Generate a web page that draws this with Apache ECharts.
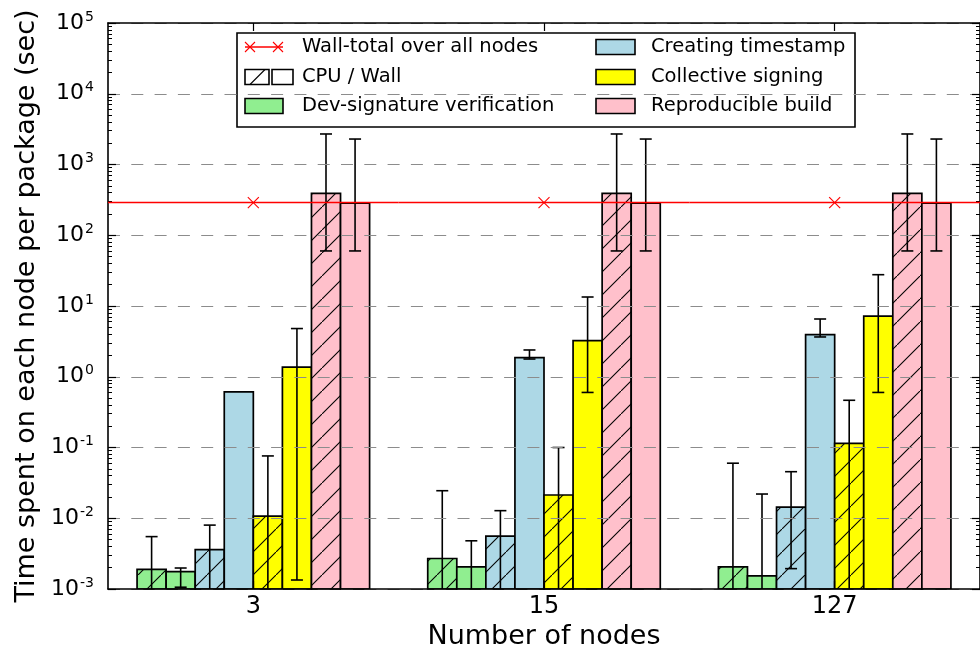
<!DOCTYPE html>
<html>
<head>
<meta charset="utf-8">
<script src="https://cdn.jsdelivr.net/npm/echarts@6/dist/echarts.min.js"></script>
<style>html,body{margin:0;padding:0;background:#fff}#c{width:980px;height:657px}</style>
</head>
<body>
<div id="c"></div>
<script>
// ---------- data ----------
const categories = ['3', '15', '127'];

const devCpu      = [0.0019, 0.0027, 0.00205];
const devCpuLow   = [1e-4, 1e-4, 1e-4];
const devCpuHigh  = [0.0055, 0.0245, 0.060];
const devWall     = [0.00176, 0.00205, 0.00153];
const devWallLow  = [0.00106, 1e-4, 1e-4];
const devWallHigh = [0.00198, 0.0048, 0.022];

const tsCpu      = [0.0036, 0.0056, 0.0144];
const tsCpuLow   = [1e-4, 1e-4, 0.00194];
const tsCpuHigh  = [0.008, 0.0128, 0.0455];
const tsWall     = [0.61, 1.86, 3.93];
const tsWallLow  = [null, 1.78, 3.65];
const tsWallHigh = [null, 2.39, 6.55];

const cosiCpu      = [0.0107, 0.0213, 0.1146];
const cosiCpuLow   = [1e-4, 1e-4, 1e-4];
const cosiCpuHigh  = [0.076, 0.10, 0.465];
const cosiWall     = [1.37, 3.23, 7.2];
const cosiWallLow  = [0.00134, 0.6, 0.6];
const cosiWallHigh = [4.8, 13.4, 27.7];

const buildCpu      = [390, 390, 390];
const buildCpuLow   = [60, 60, 60];
const buildCpuHigh  = [2700, 2700, 2700];
const buildWall     = [285, 285, 285];
const buildWallLow  = [60, 60, 60];
const buildWallHigh = [2290, 2290, 2290];

const wallTotal = [290, 290, 290];

const yMin = 1e-3, yMax = 1e5;

// ---------- styles ----------
const FONT = 'DejaVu Sans';
const GREEN = '#90EE90', BLUE = '#ADD8E6', YELLOW = '#FFFF00', PINK = '#FFC0CB';

function hatchCanvas(color) {
  const s = 23;
  const c = document.createElement('canvas');
  c.width = s; c.height = s;
  const g = c.getContext('2d');
  g.fillStyle = color; g.fillRect(0, 0, s, s);
  g.strokeStyle = '#000'; g.lineWidth = 1.1;
  g.beginPath(); g.moveTo(-3, s + 3); g.lineTo(s + 3, -3); g.stroke();
  return c;
}
function hatch(color) { return { image: hatchCanvas(color), repeat: 'repeat' }; }

const barDefs = [
  { name: 'Dev-signature verification (CPU)',  v: devCpu,   lo: devCpuLow,   hi: devCpuHigh,   color: GREEN,  hatch: true },
  { name: 'Dev-signature verification (Wall)', v: devWall,  lo: devWallLow,  hi: devWallHigh,  color: GREEN,  hatch: false },
  { name: 'Creating timestamp (CPU)',          v: tsCpu,    lo: tsCpuLow,    hi: tsCpuHigh,    color: BLUE,   hatch: true },
  { name: 'Creating timestamp (Wall)',         v: tsWall,   lo: tsWallLow,   hi: tsWallHigh,   color: BLUE,   hatch: false },
  { name: 'Collective signing (CPU)',          v: cosiCpu,  lo: cosiCpuLow,  hi: cosiCpuHigh,  color: YELLOW, hatch: true },
  { name: 'Collective signing (Wall)',         v: cosiWall, lo: cosiWallLow, hi: cosiWallHigh, color: YELLOW, hatch: false },
  { name: 'Reproducible build (CPU)',          v: buildCpu, lo: buildCpuLow, hi: buildCpuHigh, color: PINK,   hatch: true },
  { name: 'Reproducible build (Wall)',         v: buildWall,lo: buildWallLow,hi: buildWallHigh,color: PINK,   hatch: false }
];

const chart = echarts.init(document.getElementById('c'), null, { renderer: 'canvas' });

const barSeries = barDefs.map((d, k) => {
  const fill = d.hatch ? hatch(d.color) : d.color;
  return {
    type: 'custom',
    name: d.name,
    z: 1,
    encode: { x: 0, y: 1 },
    data: categories.map((c, i) => [i, d.v[i], d.lo[i] == null ? '-' : d.lo[i], d.hi[i] == null ? '-' : d.hi[i]]),
    renderItem: function (params, api) {
      const ci = api.value(0), v = api.value(1), lo = api.value(2), hi = api.value(3);
      const cs = params.coordSys;
      const band = cs.width / categories.length;
      const w = band * 0.1;
      const p = api.coord([ci, v]);
      const bottom = cs.y + cs.height;
      const x0 = p[0] + (k - 4) * w;
      const cx = x0 + w / 2;
      const children = [{
        type: 'rect',
        shape: { x: x0, y: p[1], width: w, height: bottom - p[1] },
        style: { fill: fill, stroke: '#000', lineWidth: 1.7 }
      }];
      if (isFinite(hi) && isFinite(lo)) {
        const yh = api.coord([ci, hi])[1];
        let yl = api.coord([ci, lo])[1];
        const clipped = !(yl <= bottom);
        if (clipped) yl = bottom;
        const es = { stroke: '#000', lineWidth: 1.6 };
        children.push({ type: 'line', shape: { x1: cx, y1: yh, x2: cx, y2: yl }, style: es });
        children.push({ type: 'line', shape: { x1: cx - 6, y1: yh, x2: cx + 6, y2: yh }, style: es });
        if (!clipped) children.push({ type: 'line', shape: { x1: cx - 6, y1: yl, x2: cx + 6, y2: yl }, style: es });
      }
      return { type: 'group', children: children };
    }
  };
});

const wallSeries = {
  type: 'custom',
  name: 'Wall-total over all nodes',
  z: 4,
  encode: { x: 0, y: 1 },
  data: categories.map((c, i) => [i, wallTotal[i]]),
  renderItem: function (params, api) {
    const p = api.coord([api.value(0), api.value(1)]);
    const band = params.coordSys.width / categories.length;
    const s = 5.5;
    const st = { stroke: '#ff0000', lineWidth: 1.6 };
    const sx = { stroke: '#ff0000', lineWidth: 1.1 };
    return { type: 'group', children: [
      { type: 'line', shape: { x1: p[0] - band / 2, y1: p[1], x2: p[0] + band / 2, y2: p[1] }, style: st },
      { type: 'line', shape: { x1: p[0] - s, y1: p[1] - s, x2: p[0] + s, y2: p[1] + s }, style: sx },
      { type: 'line', shape: { x1: p[0] - s, y1: p[1] + s, x2: p[0] + s, y2: p[1] - s }, style: sx }
    ]};
  }
};

// ---------- legend (drawn) ----------
const rowsY = [47, 77, 106];
const legFont = { fontSize: 19.5, fontFamily: FONT, fill: '#000', verticalAlign: 'middle', align: 'left' };
function legText(x, y, t) { return { type: 'text', x: x, y: y, style: Object.assign({ text: t }, legFont) }; }
function legBox(x, y, w, fill) { return { type: 'rect', shape: { x: x, y: y - 7.5, width: w, height: 15 }, style: { fill: fill, stroke: '#000', lineWidth: 1.6 } }; }
const xs = 5;
const legendEls = [
  { type: 'rect', shape: { x: 237, y: 33, width: 618, height: 94 }, style: { fill: '#fff', stroke: '#000', lineWidth: 1.6 } },
  { type: 'line', shape: { x1: 245, y1: rowsY[0], x2: 283, y2: rowsY[0] }, style: { stroke: '#ff0000', lineWidth: 1.5 } },
  { type: 'line', shape: { x1: 250 - xs, y1: rowsY[0] - xs, x2: 250 + xs, y2: rowsY[0] + xs }, style: { stroke: '#ff0000', lineWidth: 1.1 } },
  { type: 'line', shape: { x1: 250 - xs, y1: rowsY[0] + xs, x2: 250 + xs, y2: rowsY[0] - xs }, style: { stroke: '#ff0000', lineWidth: 1.1 } },
  { type: 'line', shape: { x1: 278 - xs, y1: rowsY[0] - xs, x2: 278 + xs, y2: rowsY[0] + xs }, style: { stroke: '#ff0000', lineWidth: 1.1 } },
  { type: 'line', shape: { x1: 278 - xs, y1: rowsY[0] + xs, x2: 278 + xs, y2: rowsY[0] - xs }, style: { stroke: '#ff0000', lineWidth: 1.1 } },
  legText(302, rowsY[0], 'Wall-total over all nodes'),
  legBox(245, rowsY[1], 24, '#fff'),
  { type: 'line', shape: { x1: 250, y1: rowsY[1] + 7.5, x2: 265, y2: rowsY[1] - 7.5 }, style: { stroke: '#000', lineWidth: 1.1 } },
  legBox(272, rowsY[1], 21, '#fff'),
  legText(302, rowsY[1], 'CPU / Wall'),
  legBox(245, rowsY[2], 38, GREEN),
  legText(302, rowsY[2], 'Dev-signature verification'),
  legBox(596, rowsY[0], 39, BLUE),
  legText(651, rowsY[0], 'Creating timestamp'),
  legBox(596, rowsY[1], 39, YELLOW),
  legText(651, rowsY[1], 'Collective signing'),
  legBox(596, rowsY[2], 39, PINK),
  legText(651, rowsY[2], 'Reproducible build')
];

function expLabel(v) {
  const e = Math.round(Math.log10(v));
  return '{b|10}{s|' + (e < 0 ? '-' : '') + Math.abs(e) + '}';
}

const axisLineStyle = { color: '#000', width: 1.6 };

const option = {
  animation: false,
  backgroundColor: '#fff',
  grid: { left: 108, right: -4, top: 23, bottom: 68, containLabel: false },
  xAxis: [{
    type: 'category',
    data: categories,
    position: 'bottom',
    z: 3,
    boundaryGap: true,
    axisLine: { lineStyle: axisLineStyle },
    axisTick: { show: true, inside: true, alignWithLabel: true, length: 8, lineStyle: { color: '#000', width: 1.2 } },
    axisLabel: { color: '#000', fontSize: 24, fontFamily: FONT, margin: 6 },
    splitLine: { show: false },
    name: 'Number of nodes',
    nameLocation: 'middle',
    nameGap: 34,
    nameTextStyle: { color: '#000', fontSize: 27, fontFamily: FONT }
  }, {
    type: 'category',
    data: categories,
    position: 'top',
    z: 3,
    axisLine: { lineStyle: axisLineStyle },
    axisTick: { show: true, inside: true, alignWithLabel: true, length: 8, lineStyle: { color: '#000', width: 1.2 } },
    axisLabel: { show: false },
    splitLine: { show: false }
  }],
  yAxis: [{
    type: 'log',
    logBase: 10,
    min: yMin,
    max: yMax,
    position: 'left',
    z: 2,
    axisLine: { show: true, lineStyle: axisLineStyle },
    axisTick: { show: true, inside: true, length: 8, lineStyle: { color: '#000', width: 1.2 } },
    minorTick: { show: true, splitNumber: 9, length: 4, lineStyle: { color: '#000', width: 1 } },
    axisLabel: {
      margin: 14,
      formatter: expLabel,
      rich: {
        b: { fontSize: 22, fontFamily: FONT, color: '#000', lineHeight: 26, verticalAlign: 'middle' },
        s: { fontSize: 14, fontFamily: FONT, color: '#000', lineHeight: 15, verticalAlign: 'top', padding: [0, 0, 0, 1] }
      }
    },
    splitLine: { show: true, lineStyle: { color: '#8c8c8c', width: 1.2, type: [12, 11.3] } },
    name: 'Time spent on each node per package (sec)',
    nameLocation: 'middle',
    nameGap: 66,
    nameTextStyle: { color: '#000', fontSize: 27, fontFamily: FONT }
  }, {
    type: 'log',
    logBase: 10,
    min: yMin,
    max: yMax,
    position: 'right',
    z: 3,
    axisLine: { show: true, lineStyle: axisLineStyle },
    axisTick: { show: true, inside: true, length: 8, lineStyle: { color: '#000', width: 1.2 } },
    minorTick: { show: true, splitNumber: 9, length: 4, lineStyle: { color: '#000', width: 1 } },
    axisLabel: { show: false },
    splitLine: { show: false }
  }],
  series: barSeries.concat([wallSeries]),
  graphic: [{ type: 'group', z: 100, children: legendEls }]
};

chart.setOption(option);
</script>
</body>
</html>
